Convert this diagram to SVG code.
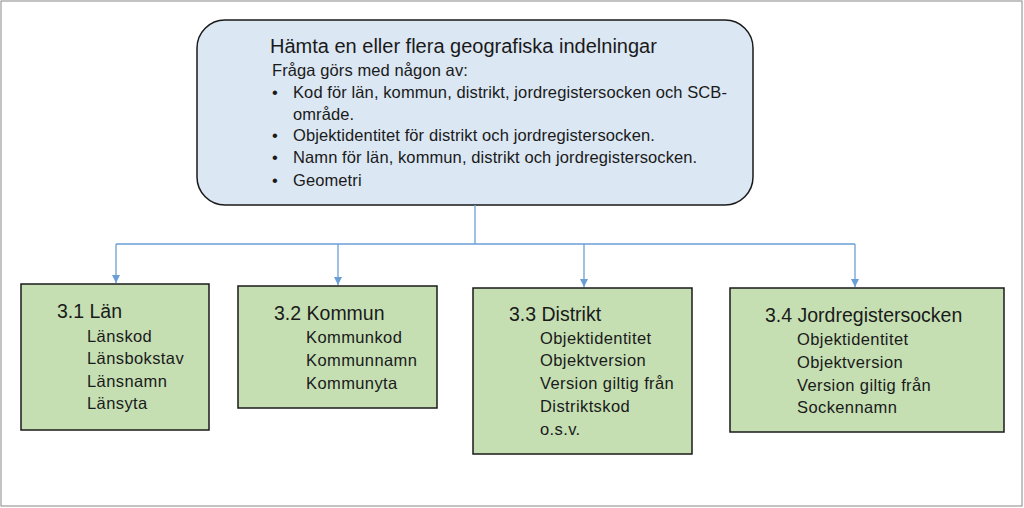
<svg xmlns="http://www.w3.org/2000/svg" width="1024" height="508" viewBox="0 0 1024 508">
<style>
text{font-family:"Liberation Sans",Arial,sans-serif;fill:#1a1a1a}
.t{font-size:19.5px}.i{font-size:16.5px;letter-spacing:0.4px}.b{font-size:16.5px;letter-spacing:0.1px}
.g{fill:#c5dfb3;stroke:#1a1a1a;stroke-width:1.5}
.c{stroke:#6a9fd6;stroke-width:1.3;fill:none}
</style>
<defs><marker id="a" viewBox="0 0 10 10" refX="10" refY="5" markerWidth="8" markerHeight="8" markerUnits="userSpaceOnUse" orient="auto"><path d="M0,0L10,5L0,10z" fill="#6a9fd6"/></marker></defs>
<rect x="1" y="1" width="1021" height="505" fill="#fff" stroke="#888"/>
<g id="top"><rect x="197" y="20" width="556" height="185" rx="28" fill="#dbe7f3" stroke="#1a1a1a" stroke-width="1.5"/>
<text x="270" y="53" style="font-size:20px">Hämta en eller flera geografiska indelningar</text>
<g class="b"><text x="272" y="76">Fråga görs med någon av:</text>
<text x="272" y="98">•</text><text x="293" y="98">Kod för län, kommun, distrikt, jordregistersocken och SCB-</text>
<text x="293" y="120">område.</text>
<text x="272" y="141">•</text><text x="293" y="141">Objektidentitet för distrikt och jordregistersocken.</text>
<text x="272" y="163">•</text><text x="293" y="163">Namn för län, kommun, distrikt och jordregistersocken.</text>
<text x="272" y="186">•</text><text x="293" y="186">Geometri</text></g></g>
<g id="connectors">
<path class="c" d="M475,205V244M116,244H855"/>
<path class="c" d="M116,244V283" marker-end="url(#a)"/>
<path class="c" d="M338,244V285" marker-end="url(#a)"/>
<path class="c" d="M584,244V287" marker-end="url(#a)"/>
<path class="c" d="M855,244V287" marker-end="url(#a)"/>
</g>
<g id="lan"><rect class="g" x="21" y="284" width="188" height="146"/>
<text class="t" x="57" y="318">3.1 Län</text>
<g class="i"><text x="87" y="342">Länskod</text><text x="87" y="364">Länsbokstav</text><text x="87" y="387">Länsnamn</text><text x="87" y="409">Länsyta</text></g></g>
<g id="kommun"><rect class="g" x="238" y="286" width="199" height="122"/>
<text class="t" x="274" y="320">3.2 Kommun</text>
<g class="i"><text x="306" y="343">Kommunkod</text><text x="306" y="366">Kommunnamn</text><text x="306" y="389">Kommunyta</text></g></g>
<g id="distrikt"><rect class="g" x="473" y="288" width="219" height="166"/>
<text class="t" x="509" y="321">3.3 Distrikt</text>
<g class="i"><text x="540" y="344">Objektidentitet</text><text x="540" y="366">Objektversion</text><text x="540" y="389">Version giltig från</text><text x="540" y="412">Distriktskod</text><text x="540" y="435">o.s.v.</text></g></g>
<g id="jord"><rect class="g" x="730" y="288" width="274" height="144"/>
<text class="t" x="765" y="322">3.4 Jordregistersocken</text>
<g class="i"><text x="797" y="345">Objektidentitet</text><text x="797" y="368">Objektversion</text><text x="797" y="391">Version giltig från</text><text x="797" y="413">Sockennamn</text></g></g>
</svg>
